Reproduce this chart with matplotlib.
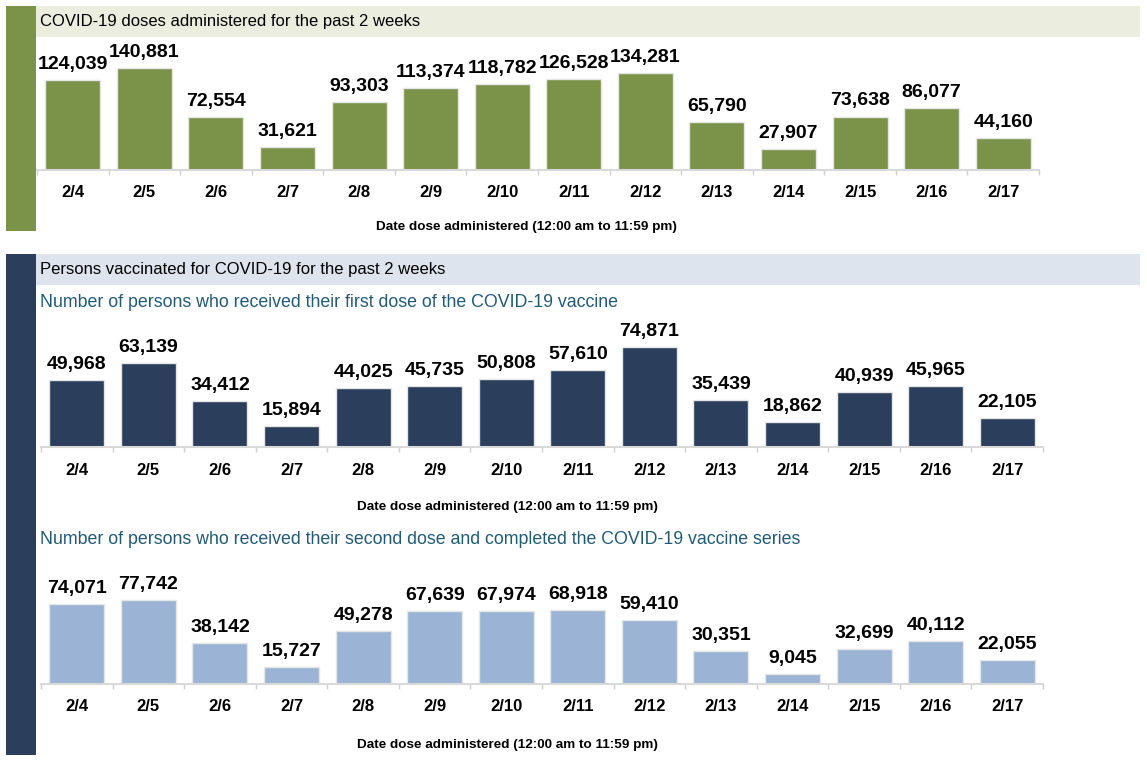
import numpy as np
import matplotlib
matplotlib.use("Agg")
import matplotlib.pyplot as plt
from matplotlib.patches import Rectangle

W = 1147
H = 768

dates = ["2/4", "2/5", "2/6", "2/7", "2/8", "2/9", "2/10",
         "2/11", "2/12", "2/13", "2/14", "2/15", "2/16", "2/17"]
doses = [124039, 140881, 72554, 31621, 93303, 113374, 118782,
         126528, 134281, 65790, 27907, 73638, 86077, 44160]
first_dose = [49968, 63139, 34412, 15894, 44025, 45735, 50808,
              57610, 74871, 35439, 18862, 40939, 45965, 22105]
second_dose = [74071, 77742, 38142, 15727, 49278, 67639, 67974,
               68918, 59410, 30351, 9045, 32699, 40112, 22055]

xlabel = "Date dose administered (12:00 am to 11:59 pm)"
head1 = "COVID-19 doses administered for the past 2 weeks"
head2 = "Persons vaccinated for COVID-19 for the past 2 weeks"
sub1 = "Number of persons who received their first dose of the COVID-19 vaccine"
sub2 = "Number of persons who received their second dose and completed the COVID-19 vaccine series"

green = "#7b9249"
navy = "#2b3e5c"
light_blue = "#9bb3d5"
teal = "#215a75"

main_font = ["Liberation Sans", "DejaVu Sans"]


def box(x0, y0, x1, y1):
    # pixel box (top-left origin) -> figure fraction rect
    return [x0 / W, 1 - y1 / H, (x1 - x0) / W, (y1 - y0) / H]


def rect(fig, x0, y0, x1, y1, color):
    l, b, w, h = box(x0, y0, x1, y1)
    fig.add_artist(Rectangle((l, b), w, h, transform=fig.transFigure,
                             facecolor=color, edgecolor="none", zorder=0))


def bar_chart(fig, pos, values, color, ymax):
    ax = fig.add_axes(box(*pos))
    x = np.arange(len(values))
    ax.bar(x, values, width=0.77, color=color, edgecolor="#e6e6e6", linewidth=1)
    ax.set_xlim(-0.5, len(values) - 0.5)
    ax.set_ylim(0, ymax)
    for xi, v in zip(x, values):
        ax.annotate(f"{v:,}", (xi, v), xytext=(0, 8), textcoords="offset points",
                    ha="center", va="baseline", fontsize=14, fontweight="bold",
                    family=main_font)
    ax.set_xticks(x)
    ax.set_xticklabels(dates, fontsize=12, fontweight="bold", family=main_font)
    ax.tick_params(axis="x", which="major", length=0, pad=11)
    ax.set_xticks(np.arange(len(values) + 1) - 0.5, minor=True)
    ax.tick_params(axis="x", which="minor", length=3.5, color="#d0d0d0", width=1)
    ax.set_yticks([])
    for s in ["top", "left", "right"]:
        ax.spines[s].set_visible(False)
    ax.spines["bottom"].set_color("#d9d9d9")
    ax.spines["bottom"].set_linewidth(1.5)
    ax.patch.set_alpha(0)
    return ax


fig = plt.figure(figsize=(W / 100, H / 100), dpi=100)

# section 1
rect(fig, 6, 6, 36, 231, green)
rect(fig, 36, 6, 1140, 37, "#ebeedf")
fig.text(40 / W, 1 - 21.5 / H, head1, fontsize=12, family=main_font,
         va="center", ha="left")
bar_chart(fig, (37, 40, 1039, 169.5), doses, green, 180300)
fig.text(526 / W, 1 - 227 / H, xlabel, fontsize=9.7, fontweight="bold",
         family=main_font, ha="center", va="center")

# section 2
rect(fig, 6, 254, 36, 755, navy)
rect(fig, 36, 254, 1140, 285, "#dde4ee")
fig.text(40 / W, 1 - 269.5 / H, head2, fontsize=12, family=main_font,
         va="center", ha="left")
fig.text(40 / W, 1 - 302 / H, sub1, fontsize=12.8, family=main_font,
         color=teal, va="center", ha="left")
bar_chart(fig, (41, 320, 1043, 447.3), first_dose, navy, 95000)
fig.text(507 / W, 1 - 507 / H, xlabel, fontsize=9.7, fontweight="bold",
         family=main_font, ha="center", va="center")

fig.text(40 / W, 1 - 539 / H, sub2, fontsize=12.8, family=main_font,
         color=teal, va="center", ha="left")
bar_chart(fig, (41, 560, 1043, 683.7), second_dose, light_blue, 115400)
fig.text(507 / W, 1 - 745 / H, xlabel, fontsize=9.7, fontweight="bold",
         family=main_font, ha="center", va="center")

fig.savefig("out.png", dpi=100)
